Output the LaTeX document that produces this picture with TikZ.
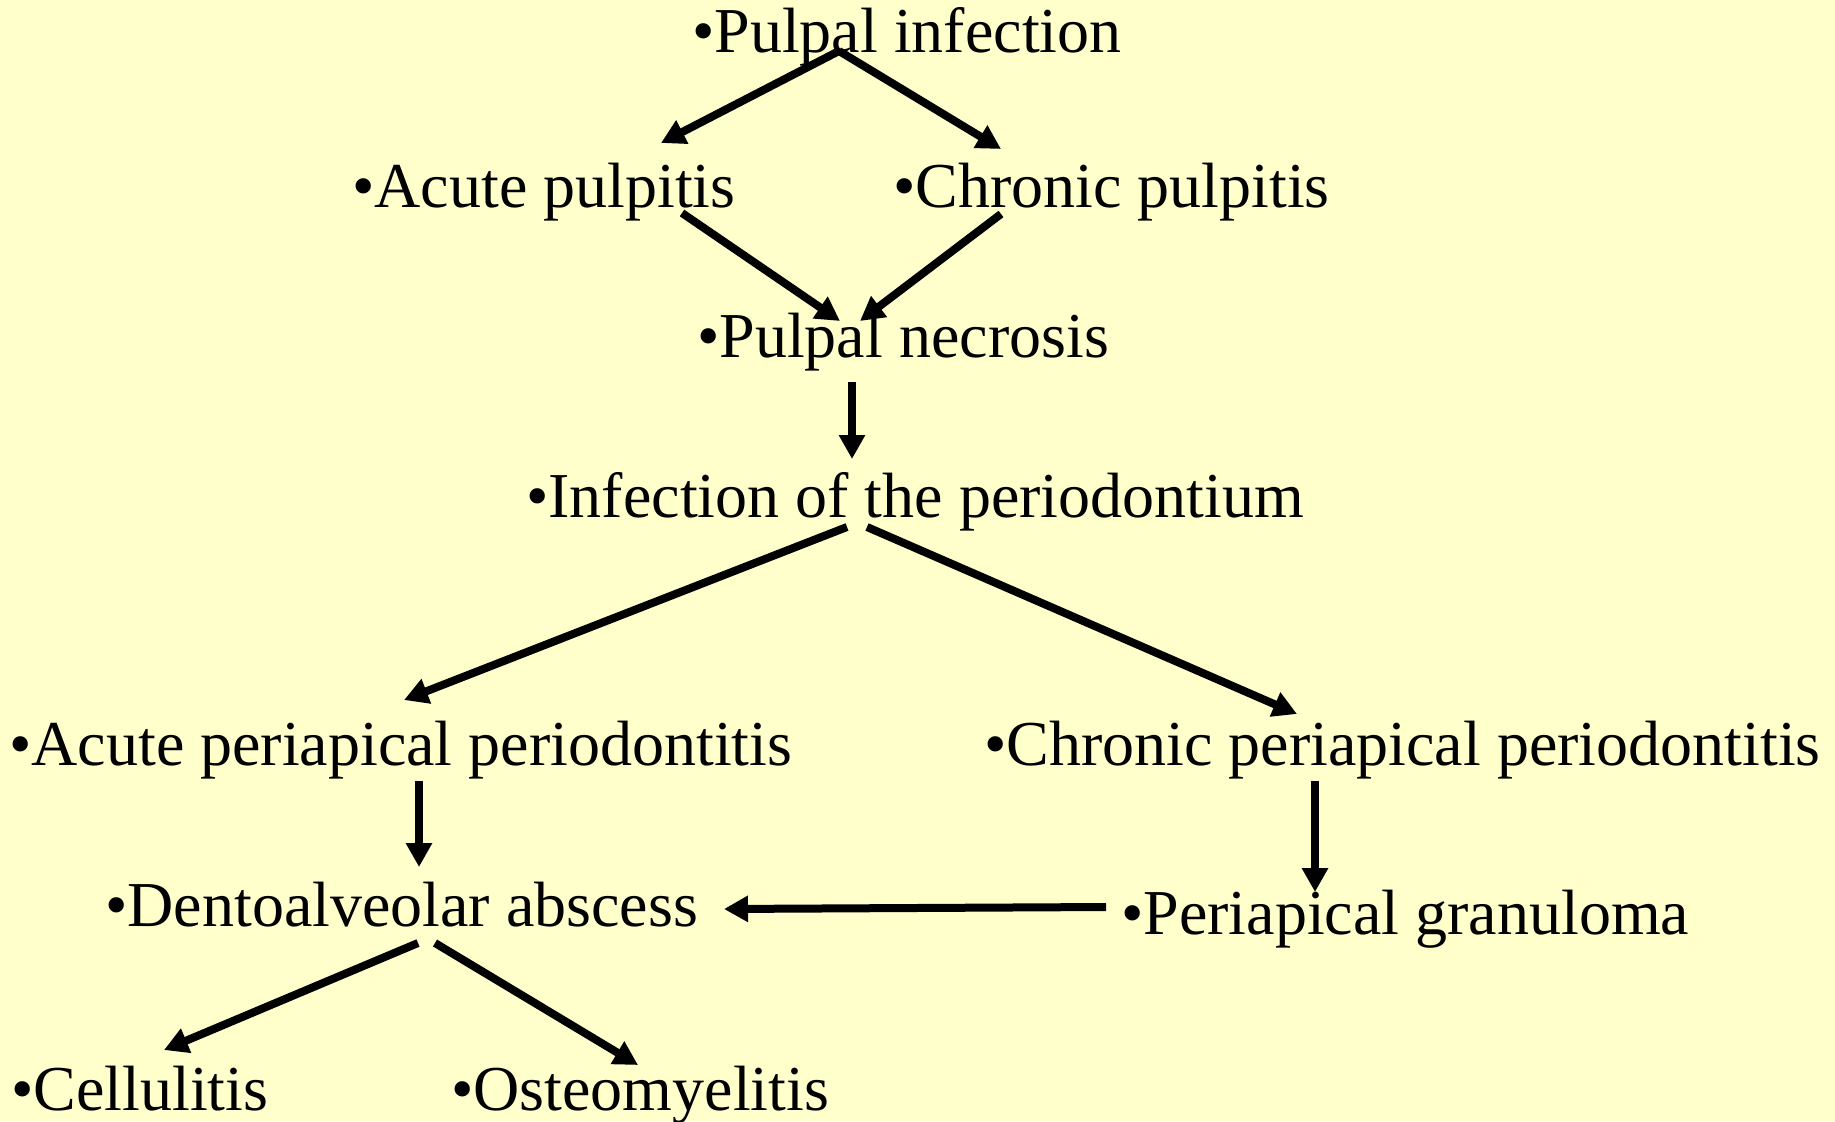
\documentclass[tikz,border=0pt]{standalone}
\usepackage{fontspec}
\setmainfont{Liberation Serif}
\usetikzlibrary{arrows.meta,calc}
\definecolor{bgyellow}{HTML}{FFFFCC}
\begin{document}
\begin{tikzpicture}[x=1pt,y=-1pt,
  txt/.style={anchor=base west, inner sep=0pt, font=\fontsize{64}{70}\selectfont},
  arr/.style={line width=8pt, -{Triangle[length=24pt,width=25pt]}}]
\fill[bgyellow] (0,0) rectangle (1835,1121);
\useasboundingbox (0,0) rectangle (1835,1121);
\node[txt] (pi)  at (692,53)   {•Pulpal infection};
\node[txt] (ap)  at (352,207)  {•Acute pulpitis};
\node[txt] (cp)  at (893,207)  {•Chronic pulpitis};
\node[txt] (pn)  at (697,357)  {•Pulpal necrosis};
\node[txt] (ip)  at (526,517)  {•Infection of the periodontium};
\node[txt] (app) at (9,765)    {•Acute periapical periodontitis};
\node[txt] (cpp) at (984,765)  {•Chronic periapical periodontitis};
\node[txt] (da)  at (105,926)  {•Dentoalveolar abscess};
\node[txt] (pg)  at (1121,934) {•Periapical granuloma};
\node[txt] (cel) at (11,1110)  {•Cellulitis};
\node[txt] (ost) at (451,1110) {•Osteomyelitis};
\draw[arr] ($(pi.base west)+(147,-2)$) -- ($(ap.base west)+(309,-64)$);
\draw[arr] ($(pi.base west)+(147,-2)$) -- ($(cp.base west)+(108,-58)$);
\draw[arr] ($(ap.base west)+(330,6)$) -- ($(pn.base west)+(143,-36)$);
\draw[arr] ($(cp.base west)+(108,7)$) -- ($(pn.base west)+(163,-36)$);
\draw[arr] ($(pn.base west)+(155,25)$) -- ($(ip.base west)+(326,-58)$);
\draw[arr] ($(ip.base west)+(321,10)$) -- ($(app.base west)+(395,-65)$);
\draw[arr] ($(ip.base west)+(341,10)$) -- ($(cpp.base west)+(313,-51)$);
\draw[arr] ($(app.base west)+(410,16)$) -- ($(da.base west)+(314,-59)$);
\draw[arr] ($(cpp.base west)+(331,16)$) -- ($(pg.base west)+(194,-42)$);
\draw[arr] ($(pg.base west)+(-15,-27)$) -- ($(da.base west)+(619,-17)$);
\draw[arr] ($(da.base west)+(313,17)$) -- ($(cel.base west)+(153,-60)$);
\draw[arr] ($(da.base west)+(330,17)$) -- ($(ost.base west)+(187,-45)$);
\end{tikzpicture}
\end{document}
